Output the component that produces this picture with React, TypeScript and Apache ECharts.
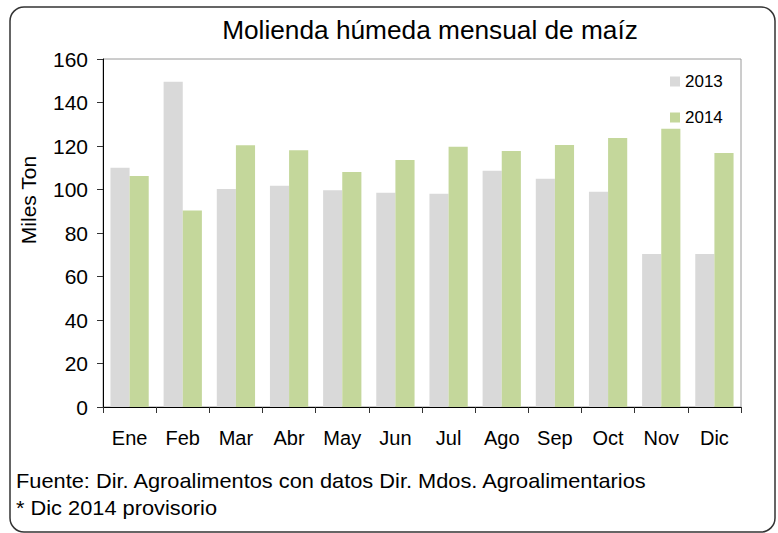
import React, { useEffect, useRef } from "react";
import * as echarts from "echarts";

const categories = ["Ene", "Feb", "Mar", "Abr", "May", "Jun", "Jul", "Ago", "Sep", "Oct", "Nov", "Dic"];
const values2013 = [110, 149.5, 100.2, 101.7, 99.7, 98.5, 98, 108.6, 104.9, 99, 70.4, 70.4];
const values2014 = [106.2, 90.3, 120.4, 118, 108, 113.6, 119.6, 117.7, 120.5, 123.7, 127.9, 116.8];
const seriesNames = ["2013", "2014"];
const yTicks = { min: 0, max: 160, interval: 20 };
const titleText = "Molienda húmeda mensual de maíz";
const yAxisName = "Miles Ton";
const footnotes = [
  "Fuente: Dir. Agroalimentos con datos Dir. Mdos. Agroalimentarios",
  "* Dic 2014 provisorio",
];

const FONT = "Liberation Sans, Arial, sans-serif";

export default function App() {
  const ref = useRef<HTMLDivElement>(null);
  useEffect(() => {
    if (!ref.current) return;
    const chart = echarts.init(ref.current, undefined, { renderer: "svg" });
    chart.setOption({
      animation: false,
      backgroundColor: "#ffffff",
      textStyle: { fontFamily: FONT, color: "#000" },
      grid: {
        left: 103,
        right: 37,
        top: 59,
        bottom: 126,
        show: true,
        borderColor: "#9a9a9a",
        borderWidth: 1,
        containLabel: false,
      },
      legend: {
        orient: "vertical",
        left: 665,
        top: 68,
        itemWidth: 10,
        itemHeight: 10,
        itemGap: 19,
        icon: "rect",
        data: seriesNames,
        textStyle: { fontSize: 17, fontFamily: FONT, color: "#000" },
      },
      xAxis: {
        type: "category",
        data: categories,
        axisLine: { lineStyle: { color: "#000", width: 1 } },
        axisTick: { show: true, length: 6, alignWithLabel: false, lineStyle: { color: "#333" } },
        axisLabel: { fontSize: 20, color: "#000", margin: 21, fontFamily: FONT },
      },
      yAxis: {
        type: "value",
        min: yTicks.min,
        max: yTicks.max,
        interval: yTicks.interval,
        axisLine: { show: true, lineStyle: { color: "#000", width: 1 } },
        axisTick: { show: true, length: 6, lineStyle: { color: "#333" } },
        splitLine: { show: false },
        axisLabel: { fontSize: 21, color: "#000", margin: 15, fontFamily: FONT },
      },
      series: [
        {
          name: seriesNames[0],
          type: "bar",
          data: values2013,
          itemStyle: { color: "#d9d9d9" },
          barGap: "0%",
          barCategoryGap: "28%",
        },
        {
          name: seriesNames[1],
          type: "bar",
          data: values2014,
          itemStyle: { color: "#c4d79b" },
          barGap: "0%",
          barCategoryGap: "28%",
        },
      ],
      graphic: [
        {
          type: "rect",
          shape: { x: 10, y: 7, width: 765, height: 525, r: 14 },
          style: { fill: "none", stroke: "#333", lineWidth: 1.5 },
          silent: true,
        },
        {
          type: "text",
          x: 430,
          y: 30,
          scaleX: 1.05,
          style: {
            text: titleText,
            fontSize: 25,
            fontFamily: FONT,
            fill: "#000",
            textAlign: "center",
            textVerticalAlign: "middle",
          },
        },
        {
          type: "text",
          x: 28,
          y: 200,
          rotation: Math.PI / 2,
          style: {
            text: yAxisName,
            fontSize: 21,
            fontFamily: FONT,
            fill: "#000",
            textAlign: "center",
            textVerticalAlign: "middle",
          },
        },
        {
          type: "text",
          x: 16,
          y: 481,
          scaleX: 1.09,
          style: {
            text: footnotes[0],
            fontSize: 20,
            fontFamily: FONT,
            fill: "#000",
            textAlign: "left",
            textVerticalAlign: "middle",
          },
        },
        {
          type: "text",
          x: 16,
          y: 508,
          scaleX: 1.09,
          style: {
            text: footnotes[1],
            fontSize: 20,
            fontFamily: FONT,
            fill: "#000",
            textAlign: "left",
            textVerticalAlign: "middle",
          },
        },
      ],
    });
    return () => chart.dispose();
  }, []);
  return (
    <div
      ref={ref}
      style={{ position: "absolute", left: 0, top: 0, width: 778, height: 533 }}
    />
  );
}
